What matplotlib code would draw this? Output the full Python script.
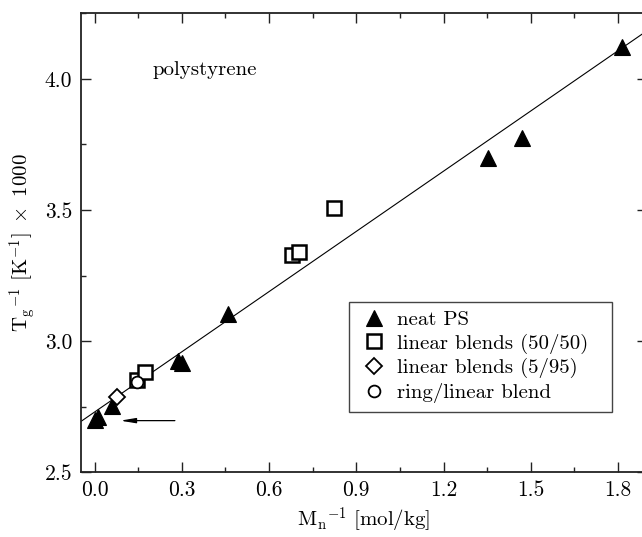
import matplotlib
matplotlib.use("Agg")
import matplotlib.pyplot as plt
from matplotlib.ticker import MultipleLocator, FixedLocator, FixedFormatter
import numpy as np

plt.rcParams['font.family'] = ['cmr10', 'DejaVu Serif']
plt.rcParams['mathtext.fontset'] = 'cm'
plt.rcParams['axes.formatter.use_mathtext'] = True
plt.rcParams['axes.unicode_minus'] = False

# ---- data ----
neat_x = [0.0, 0.012, 0.058, 0.285, 0.300, 0.459, 1.354, 1.470, 1.813]
neat_y = [2.700, 2.712, 2.753, 2.925, 2.915, 3.105, 3.699, 3.775, 4.123]

lin5050_x = [0.144, 0.173, 0.679, 0.703, 0.824]
lin5050_y = [2.852, 2.884, 3.328, 3.340, 3.508]

lin595_x = [0.076]
lin595_y = [2.788]

ring_x = [0.147]
ring_y = [2.843]

fit_slope = 0.765
fit_intercept = 2.730

arrow_y = 2.697
arrow_from_x = 0.276
arrow_to_x = 0.088

xticks = [0.0, 0.3, 0.6, 0.9, 1.2, 1.5, 1.8]
xticklabels = ['0.0', '0.3', '0.6', '0.9', '1.2', '1.5', '1.8']
yticks = [2.5, 3.0, 3.5, 4.0]
yticklabels = ['2.5', '3.0', '3.5', '4.0']

xlim = (-0.048, 1.90)
ylim = (2.5, 4.25)

# ---- figure ----
fig = plt.figure(figsize=(6.42, 5.37), dpi=100)
ax = fig.add_axes([80.7/642, 1 - 472.3/537, (647 - 80.7)/642, (472.3 - 13.3)/537])

xl = np.array(xlim)
ax.plot(xl, fit_intercept + fit_slope * xl, color='black', lw=0.8, zorder=1)

ax.plot(neat_x, neat_y, linestyle='none', marker='^', ms=11.5, mfc='black',
        mec='black', mew=0.8, label='neat PS', zorder=3)
ax.plot(lin5050_x, lin5050_y, linestyle='none', marker='s', ms=9.5, mfc='white',
        mec='black', mew=1.8, label='linear blends (50/50)', zorder=3)
ax.plot(lin595_x, lin595_y, linestyle='none', marker='D', ms=8.5, mfc='white',
        mec='black', mew=1.3, label='linear blends (5/95)', zorder=3)
ax.plot(ring_x, ring_y, linestyle='none', marker='o', ms=8.5, mfc='white',
        mec='black', mew=1.3, label='ring/linear blend', zorder=4)

ax.annotate('', xy=(arrow_to_x, arrow_y), xytext=(arrow_from_x, arrow_y),
            arrowprops=dict(arrowstyle='-|>,head_length=0.9,head_width=0.15',
                            color='black', lw=0.9, shrinkA=0, shrinkB=0))

ax.text(0.20, 4.015, 'polystyrene', fontsize=15, ha='left', va='baseline')

ax.set_xlim(*xlim)
ax.set_ylim(*ylim)

ax.xaxis.set_major_locator(FixedLocator(xticks))
ax.xaxis.set_major_formatter(FixedFormatter(xticklabels))
ax.xaxis.set_minor_locator(MultipleLocator(0.15))
ax.yaxis.set_major_locator(FixedLocator(yticks))
ax.yaxis.set_major_formatter(FixedFormatter(yticklabels))
ax.yaxis.set_minor_locator(MultipleLocator(0.25))

ax.tick_params(which='both', direction='in', top=True, right=True, width=1.0,
               labelsize=15.5, color='#222222')
ax.tick_params(which='major', length=7, pad=6)
ax.tick_params(which='minor', length=3.5)
for s in ax.spines.values():
    s.set_linewidth(1.3)
    s.set_color('#222222')

ax.set_xlabel(r'$\mathrm{M_n}^{-1}\ [\mathrm{mol/kg}]$', fontsize=15, labelpad=4)
ax.set_ylabel(r'$\mathrm{T_g}^{-1}\ [\mathrm{K}^{-1}]\ \times\ 1000$', fontsize=15, labelpad=5)

leg = ax.legend(loc='upper left', bbox_to_anchor=(0.474, 0.372, 0.465, 0.0),
                mode='expand', borderaxespad=0, fontsize=15, numpoints=1,
                handlelength=1.5, handletextpad=0.37, labelspacing=0.22,
                borderpad=0.42, fancybox=False, framealpha=1, edgecolor='#444444')
leg.get_frame().set_linewidth(1.0)

fig.savefig('out.png', dpi=100)
